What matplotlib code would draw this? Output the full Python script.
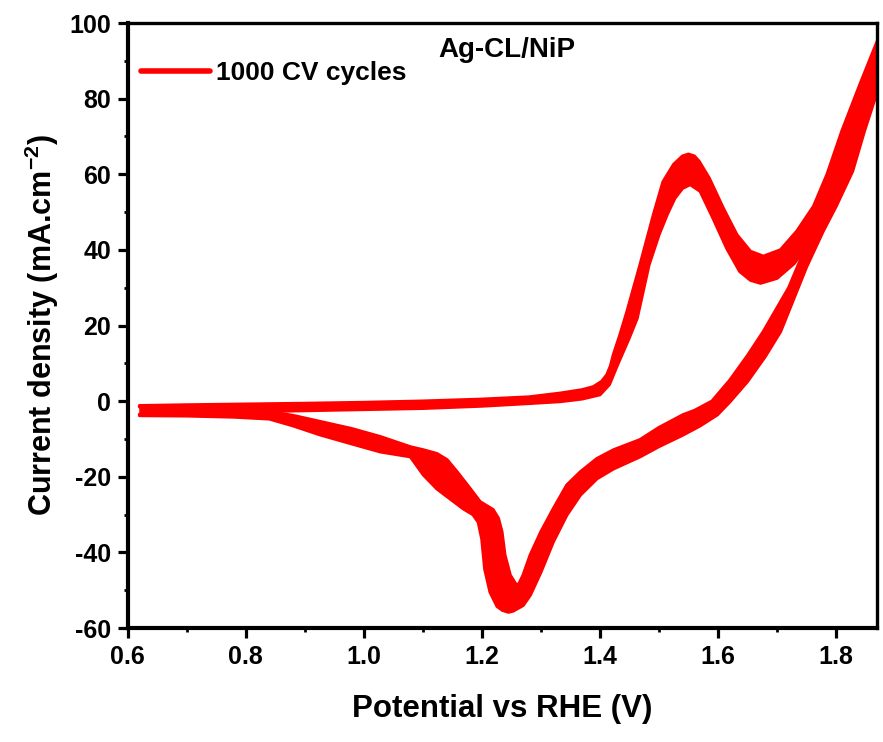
import numpy as np
import matplotlib
matplotlib.use("Agg")
import matplotlib.pyplot as plt
from matplotlib.lines import Line2D
from matplotlib.ticker import MultipleLocator

plt.rcParams['font.family'] = ['Liberation Sans', 'DejaVu Sans']
plt.rcParams['font.weight'] = 'bold'
plt.rcParams['axes.unicode_minus'] = False
plt.rcParams['mathtext.fontset'] = 'custom'
plt.rcParams['mathtext.rm'] = 'Liberation Sans:bold'
plt.rcParams['mathtext.bf'] = 'Liberation Sans:bold'
plt.rcParams['mathtext.default'] = 'bf'

# forward (anodic) sweep, outer edge of the cycle band
fwd_a_x = [0.62, 0.70, 0.80, 0.90, 1.00, 1.10, 1.20, 1.28, 1.333, 1.37, 1.389, 1.403, 1.412,
           1.418, 1.423, 1.434, 1.446, 1.468, 1.491, 1.507, 1.525, 1.540, 1.550, 1.560, 1.568,
           1.585, 1.609, 1.632, 1.655, 1.677, 1.706, 1.734, 1.762, 1.785, 1.810, 1.840, 1.869, 1.885]
fwd_a_y = [-1.2, -1.0, -0.8, -0.6, -0.35, 0.0, 0.5, 1.1, 2.1, 3.0, 3.8, 5.2, 7.0,
           9.3, 12.3, 17.5, 23.7, 36.0, 49.4, 58.0, 62.6, 64.8, 65.3, 64.8, 63.4,
           59.0, 51.0, 44.0, 39.6, 38.3, 40.0, 45.0, 51.5, 60.0, 71.4, 83.5, 94.8, 101.0]

# forward sweep, inner edge
fwd_b_x = [0.62, 0.70, 0.80, 0.90, 1.00, 1.10, 1.20, 1.28, 1.333, 1.37, 1.400, 1.416, 1.430,
           1.449, 1.463, 1.483, 1.500, 1.514, 1.527, 1.540, 1.553, 1.570, 1.592, 1.615, 1.637,
           1.655, 1.672, 1.700, 1.729, 1.748, 1.780, 1.810, 1.840, 1.869, 1.885]
fwd_b_y = [-3.5, -3.1, -2.8, -2.5, -2.2, -1.9, -1.3, -0.6, -0.1, 0.6, 1.7, 4.4, 9.7,
           16.5, 21.9, 36.0, 44.0, 49.4, 53.7, 56.3, 57.3, 55.5, 48.3, 40.4, 34.3,
           32.0, 31.2, 32.5, 36.4, 40.4, 50.5, 61.0, 72.5, 84.0, 90.0]

# reverse (cathodic) sweep, outer edge
rev_a_x = [1.885, 1.869, 1.848, 1.828, 1.800, 1.778, 1.750, 1.706, 1.680, 1.650, 1.620, 1.599,
           1.570, 1.540, 1.500, 1.468, 1.423, 1.395, 1.367, 1.344, 1.321, 1.300, 1.282, 1.270,
           1.253, 1.245, 1.235, 1.226, 1.214, 1.205, 1.200, 1.194, 1.185, 1.169, 1.146, 1.124,
           1.101, 1.079, 1.028, 0.980, 0.926, 0.880, 0.840, 0.780, 0.700, 0.620]
rev_a_y = [89.0, 81.5, 71.4, 60.8, 51.5, 44.9, 35.5, 18.4, 11.8, 5.2, -0.2, -3.6,
           -6.5, -9.0, -12.0, -14.7, -17.9, -20.5, -24.8, -30.1, -37.2, -45.2, -51.3, -54.0,
           -55.5, -55.8, -55.3, -54.3, -50.5, -44.4, -36.4, -32.0, -30.0, -28.5, -25.8, -23.2,
           -19.5, -14.7, -13.4, -11.3, -8.9, -6.5, -4.7, -4.2, -3.9, -3.8]

# reverse sweep, inner edge
rev_b_x = [1.885, 1.869, 1.850, 1.820, 1.800, 1.770, 1.748, 1.720, 1.677, 1.650, 1.620, 1.590,
           1.560, 1.541, 1.500, 1.468, 1.423, 1.395, 1.367, 1.344, 1.321, 1.300, 1.282, 1.270,
           1.262, 1.257, 1.248, 1.239, 1.234, 1.228, 1.219, 1.197, 1.175, 1.158, 1.141, 1.124,
           1.101, 1.079, 1.028, 0.980, 0.926, 0.880, 0.840, 0.780, 0.700, 0.620]
rev_b_y = [98.0, 90.0, 81.0, 68.0, 60.0, 49.0, 40.4, 30.0, 18.4, 12.0, 5.5, 0.0,
           -2.5, -3.6, -7.0, -10.2, -12.9, -15.2, -18.7, -22.2, -28.5, -34.6, -40.7, -46.0,
           -48.6, -48.3, -46.0, -40.7, -34.6, -31.0, -28.7, -26.6, -22.1, -18.7, -15.5, -13.9,
           -12.9, -12.1, -9.4, -7.3, -5.4, -3.8, -2.8, -2.2, -1.8, -1.5]

x_ticks = [0.6, 0.8, 1.0, 1.2, 1.4, 1.6, 1.8]
y_ticks = [-60, -40, -20, 0, 20, 40, 60, 80, 100]

red = '#ff0000'

fig = plt.figure(figsize=(8.83, 7.42), dpi=100)
ax = fig.add_axes([0.1446, 0.1536, 0.8483, 0.8154])

for xa, ya, xb, yb in [(fwd_a_x, fwd_a_y, fwd_b_x, fwd_b_y),
                       (rev_a_x, rev_a_y, rev_b_x, rev_b_y)]:
    ax.fill(np.r_[xa, xb[::-1]], np.r_[ya, yb[::-1]], color=red, lw=0)
    ax.plot(xa, ya, color=red, lw=2.4, solid_capstyle='round', solid_joinstyle='round')
    ax.plot(xb, yb, color=red, lw=2.4, solid_capstyle='round', solid_joinstyle='round')

ax.set_xlim(0.6, 1.869)
ax.set_ylim(-60, 100)
ax.set_xticks(x_ticks)
ax.set_xticklabels(['%.1f' % v for v in x_ticks])
ax.set_yticks(y_ticks)
ax.xaxis.set_minor_locator(MultipleLocator(0.1))
ax.yaxis.set_minor_locator(MultipleLocator(10))

ax.tick_params(which='major', direction='out', length=7, width=2.3, labelsize=18, pad=5)
ax.tick_params(which='minor', direction='out', length=3, width=2.0)
ax.tick_params(top=False, right=False)
for side in ['left', 'bottom']:
    ax.spines[side].set_linewidth(3.0)
for side in ['top', 'right']:
    ax.spines[side].set_linewidth(2.4)

ax.set_xlabel('Potential vs RHE (V)', fontsize=22.5, fontweight='bold', labelpad=18)
ax.set_ylabel('Current density (mA.cm$^{-2}$)', fontsize=22, fontweight='bold', labelpad=6)

ax.text(0.506, 0.944, 'Ag-CL/NiP', transform=ax.transAxes, ha='center', va='baseline',
        fontsize=20, fontweight='bold')

handle = Line2D([], [], color=red, lw=4, solid_capstyle='round')
ax.legend([handle], ['1000 CV cycles'], loc='upper left', bbox_to_anchor=(0.004, 0.955),
          frameon=False, fontsize=19, handlelength=2.6, handletextpad=0.25,
          borderaxespad=0.2, borderpad=0.2)

fig.savefig('out.png', dpi=100)
